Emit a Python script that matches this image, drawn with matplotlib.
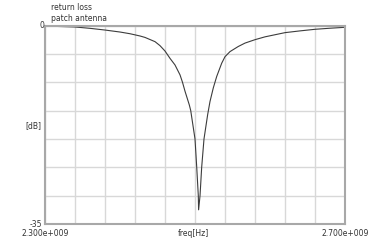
import matplotlib; matplotlib.use('Agg')
import numpy as np
from matplotlib import pyplot as plt

plt.rcParams.update({
    'font.family': 'DejaVu Sans',
    'font.size': 5.5,
})

# return loss of the patch antenna
freq_ghz = [2.3000, 2.3200, 2.3400, 2.3600, 2.3800, 2.4000, 2.4133, 2.4267,
            2.4333, 2.4467, 2.4533, 2.4600, 2.4667, 2.4733, 2.4800, 2.4833,
            2.4867, 2.4924, 2.4943, 2.5000, 2.5023, 2.5044, 2.5048, 2.5067,
            2.5089, 2.5120, 2.5169, 2.5200, 2.5244, 2.5289, 2.5356, 2.5400,
            2.5467, 2.5577, 2.5667, 2.5800, 2.5933, 2.6200, 2.6400, 2.6600,
            2.6800, 2.7000]
loss_db = [-0.10, -0.18, -0.26, -0.50, -0.80, -1.15, -1.45, -1.85,
           -2.10, -2.85, -3.55, -4.50, -5.80, -6.95, -8.70, -10.0,
           -11.6, -14.0, -15.0, -20.0, -25.0, -30.0, -32.5, -30.0,
           -25.0, -20.0, -15.7, -13.4, -11.0, -9.00, -6.65, -5.50,
           -4.60, -3.70, -3.10, -2.50, -2.00, -1.26, -0.95, -0.67,
           -0.48, -0.32]

title_lines = ['return loss', 'patch antenna']
x_min, x_max = 2.3e9, 2.7e9
y_min, y_max = -35, 0

freq = np.array(freq_ghz) * 1e9

fig = plt.figure(figsize=(3.75, 2.5), dpi=100)
ax = fig.add_axes([0.12, 0.104, 0.80, 0.794])

ax.plot(freq, loss_db, color='#3c3c3c', lw=0.8)

ax.set_xlim(x_min, x_max)
ax.set_ylim(y_min, y_max)
ax.set_xticks(np.linspace(x_min, x_max, 11))
ax.set_yticks(np.arange(y_min, y_max + 1, 5))
ax.tick_params(length=0, labelbottom=False, labelleft=False)
ax.grid(True, color='#d8d8d8', lw=1.0)
for s in ax.spines.values():
    s.set_color('#a8a8a8')
    s.set_linewidth(1.5)

# labels drawn in the same style as the original tool
tc = '#333333'
fig.text(0.136, 0.972, title_lines[0], ha='left', va='center', color=tc)
fig.text(0.136, 0.927, title_lines[1], ha='left', va='center', color=tc)
fig.text(0.117, 0.896, '0', ha='right', va='center', color=tc)
fig.text(0.113, 0.103, '%d' % y_min, ha='right', va='center', color=tc)
fig.text(0.11, 0.497, '[dB]', ha='right', va='center', color=tc)
fig.text(0.12, 0.064, '%.3fe+009' % (x_min / 1e9), ha='center', va='center', color=tc)
fig.text(0.515, 0.064, 'freq[Hz]', ha='center', va='center', color=tc)
fig.text(0.92, 0.064, '%.3fe+009' % (x_max / 1e9), ha='center', va='center', color=tc)

plt.savefig('out.png', dpi=100)
plt.close()
